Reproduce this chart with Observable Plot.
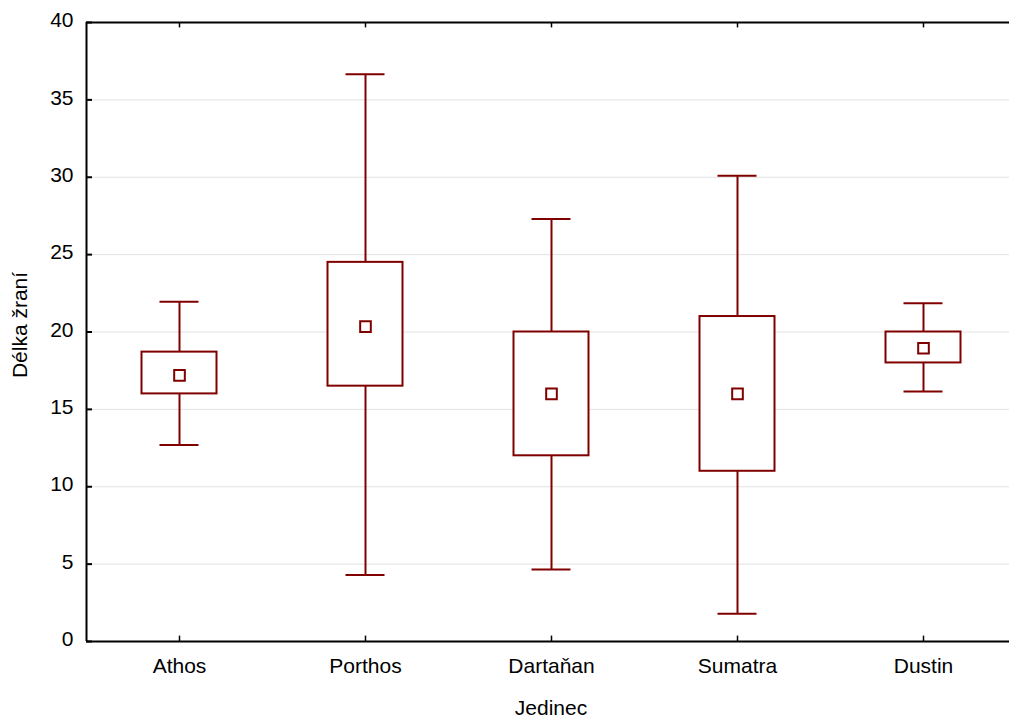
<!DOCTYPE html>
<html><head><meta charset="utf-8">
<script src="https://cdn.jsdelivr.net/npm/d3@7"></script>
<script src="https://cdn.jsdelivr.net/npm/@observablehq/plot@0.6"></script>
<style>body{margin:0;background:#fff;}</style>
</head><body><div id="chart"></div>
<script>
const names = ["Athos", "Porthos", "Dartaňan", "Sumatra", "Dustin"];
const mins = [12.7, 4.3, 4.65, 1.8, 16.15];
const q1s = [16.0, 16.5, 12.0, 11.0, 18.0];
const centers = [17.2, 20.35, 16.0, 16.0, 18.95];
const q3s = [18.7, 24.5, 20.0, 21.0, 20.0];
const maxs = [21.95, 36.65, 27.3, 30.1, 21.85];
const yTicks = [0, 5, 10, 15, 20, 25, 30, 35, 40];
const xLabel = "Jedinec";
const yLabel = "Délka žraní";

const data = names.map((n, i) => ({name: n, min: mins[i], q1: q1s[i], c: centers[i], q3: q3s[i], max: maxs[i]}));
const col = "#800000";
const fs = 21;

const chart = Plot.plot({
  width: 1009, height: 718,
  marginLeft: 86, marginRight: 0, marginTop: 22, marginBottom: 77,
  style: {fontFamily: "'Liberation Sans', Arial, sans-serif", fontSize: fs + "px", color: "black", background: "white"},
  x: {domain: names, range: [86, 1016], padding: 0, label: null},
  y: {domain: [0, 40], label: null},
  marks: [
    Plot.ruleY(yTicks.filter(d => d > 0 && d < 40), {stroke: "#e2e2e2", strokeWidth: 1}),
    Plot.ruleX(data, {x: "name", y1: "min", y2: "q1", stroke: col, strokeWidth: 2}),
    Plot.ruleX(data, {x: "name", y1: "q3", y2: "max", stroke: col, strokeWidth: 2}),
    Plot.tickY(data, {x: "name", y: "min", stroke: col, strokeWidth: 2, insetLeft: 73.5, insetRight: 73.5}),
    Plot.tickY(data, {x: "name", y: "max", stroke: col, strokeWidth: 2, insetLeft: 73.5, insetRight: 73.5}),
    Plot.barY(data, {x: "name", y1: "q1", y2: "q3", fill: "white", stroke: col, strokeWidth: 2, insetLeft: 55.5, insetRight: 55.5}),
    Plot.dot(data, {x: "name", y: "c", symbol: "square", r: 6, fill: "white", stroke: col, strokeWidth: 2}),
    Plot.ruleY([0, 40], {stroke: "black", strokeWidth: 2}),
    Plot.ruleX([names[0]], {dx: -93, stroke: "black", strokeWidth: 2}),
    Plot.tickY(yTicks, {x: () => names[0], y: d => d, stroke: "black", strokeWidth: 2, insetLeft: 0, insetRight: 180}),
    Plot.ruleX(names, {x: d => d, y1: 0, y2: 0.35, stroke: "black", strokeWidth: 1.5}),
    Plot.ruleX(names, {x: d => d, y1: 40, y2: 39.65, stroke: "black", strokeWidth: 1.5}),
    Plot.axisY(yTicks, {tickSize: 0, tickPadding: 13, dy: -2, label: null, fontSize: fs}),
    Plot.axisX({tickSize: 0, tickPadding: 17, label: null, fontSize: fs}),
    Plot.text([yLabel], {frameAnchor: "left", textAnchor: "middle", dx: -66, dy: -7, rotate: -90, fontSize: fs}),
    Plot.text([xLabel], {frameAnchor: "bottom", textAnchor: "middle", dx: 3, dy: 73, fontSize: fs})
  ]
});
document.getElementById("chart").append(chart);
</script>
</body></html>
